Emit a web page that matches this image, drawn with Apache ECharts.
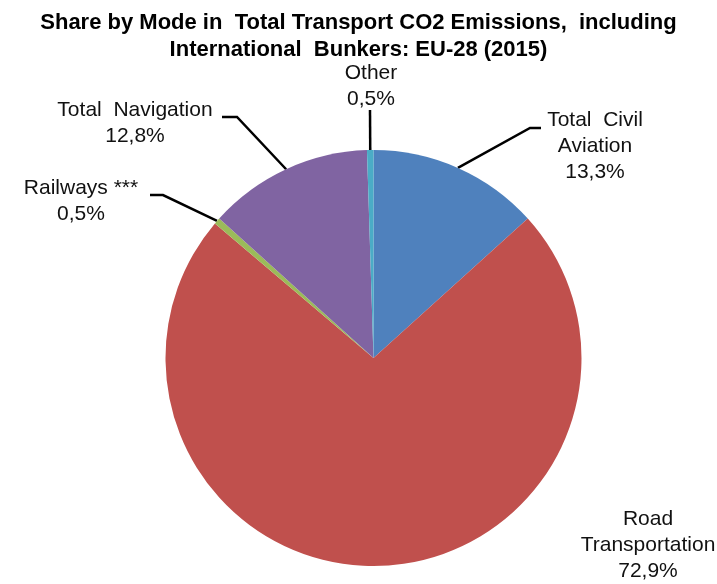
<!DOCTYPE html>
<html>
<head>
<meta charset="utf-8">
<script src="https://cdn.jsdelivr.net/npm/echarts@6/dist/echarts.min.js"></script>
<style>html,body{margin:0;padding:0;background:#fff}#c{width:717px;height:584px}</style>
</head>
<body>
<div id="c"></div>
<script>
// Data
var categories = ['Total  Civil\nAviation', 'Road\nTransportation', 'Railways ***', 'Total  Navigation', 'Other'];
var shares = [13.3, 72.9, 0.5, 12.8, 0.5];
var colors = ['#4F81BD', '#C0504D', '#9BBB59', '#8064A2', '#4BACC6'];

// Layout of labels (label centre, and elbow/end of leader line); null = no leader
var labelCentres = [[595, 146], [648, 545], [81, 201], [135, 123], [371, 86]];
var leaderElbows = [[[530, 128], [541, 128]], null, [[163, 195], [150, 195]], [[237, 117], [222, 117]], [[370, 110], [370, 110]]];

var chart = echarts.init(document.getElementById('c'), null, {renderer: 'canvas'});
var data = categories.map(function (c, i) {
  return {
    name: c,
    value: shares[i],
    itemStyle: {color: colors[i]},
    labelLine: {show: leaderElbows[i] !== null}
  };
});
chart.setOption({
  animation: false,
  title: {
    text: 'Share by Mode in  Total Transport CO2 Emissions,  including\nInternational  Bunkers: EU-28 (2015)',
    left: 'center',
    top: 4,
    textStyle: {fontFamily: 'Liberation Sans', fontWeight: 'bold', fontSize: 22, lineHeight: 27, color: '#000', align: 'center'}
  },
  series: [{
    type: 'pie',
    center: [373.5, 358],
    radius: [0, 208],
    startAngle: 90,
    clockwise: true,
    silent: true,
    itemStyle: {borderWidth: 0},
    label: {
      show: true,
      position: 'outside',
      fontFamily: 'Liberation Sans',
      fontSize: 21,
      lineHeight: 26,
      color: '#111',
      align: 'center',
      formatter: function (p) {
        return p.name + '\n' + p.value.toFixed(1).replace('.', ',') + '%';
      }
    },
    labelLine: {show: true, lineStyle: {color: '#000', width: 2.5}},
    labelLayout: function (params) {
      var i = params.dataIndex;
      var res = {x: labelCentres[i][0], y: labelCentres[i][1], align: 'center', verticalAlign: 'middle'};
      if (leaderElbows[i] && params.labelLinePoints) {
        var s = params.labelLinePoints[0];
        res.labelLinePoints = [s, leaderElbows[i][0], leaderElbows[i][1]];
      }
      return res;
    },
    data: data
  }]
});
</script>
</body>
</html>
